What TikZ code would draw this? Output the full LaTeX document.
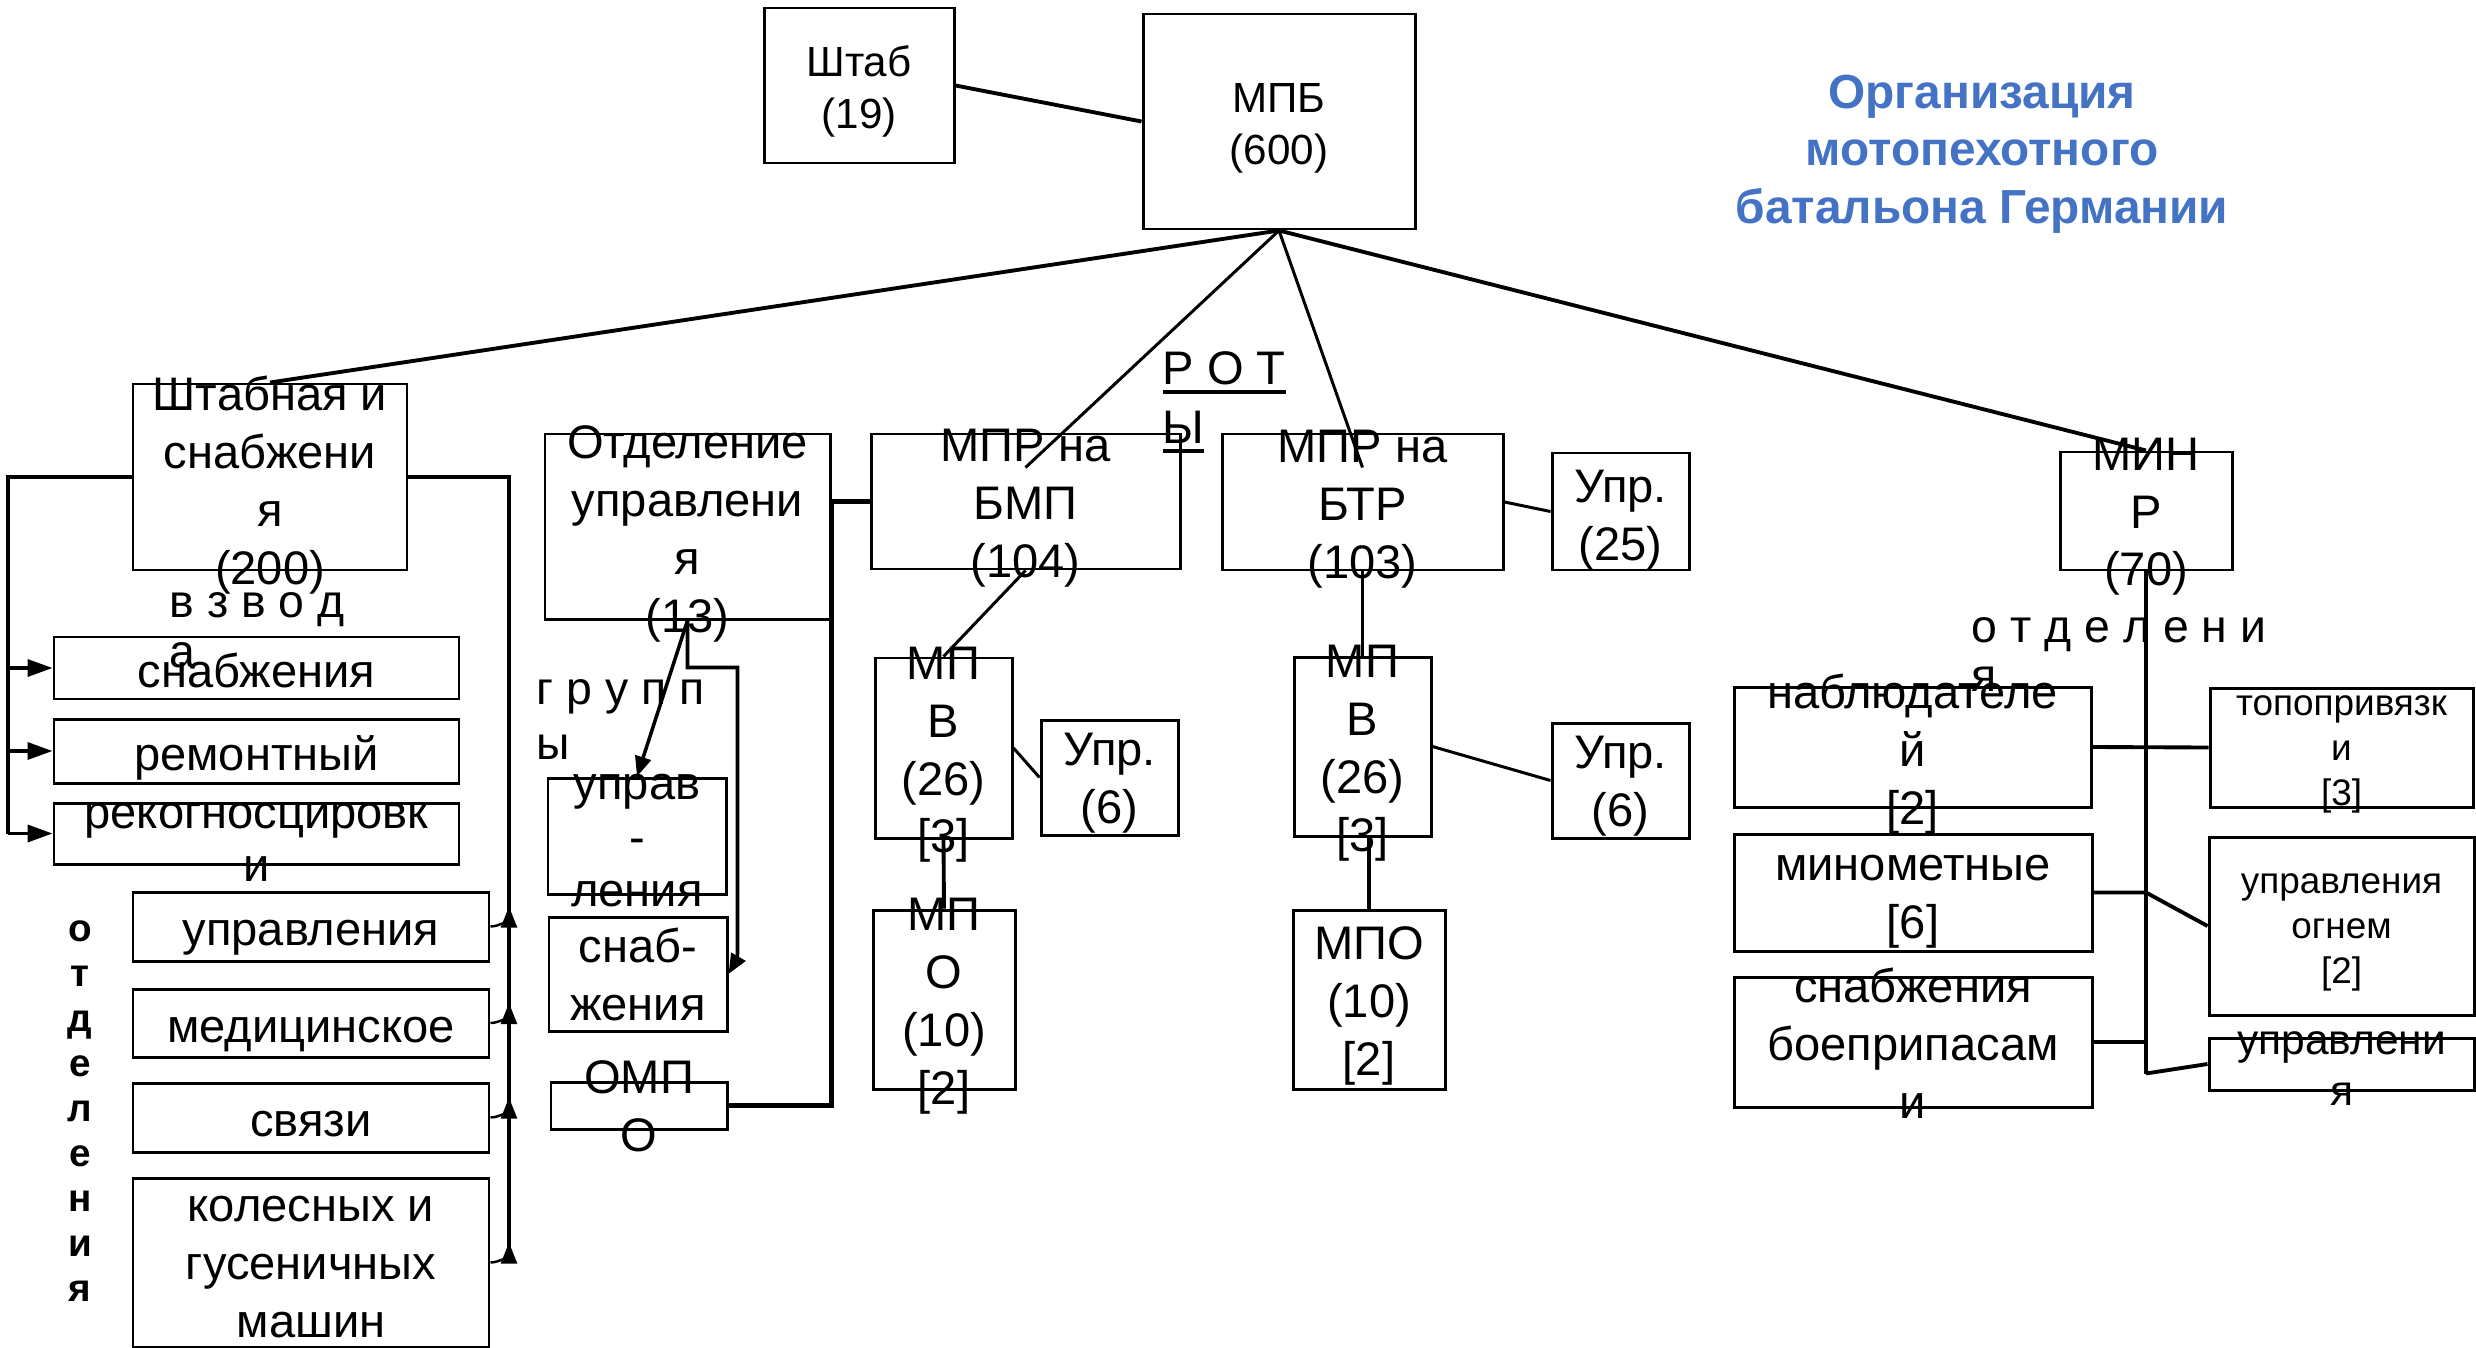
\documentclass[tikz,border=0pt]{standalone}
\usepackage{fontspec}
\setmainfont{Liberation Sans}
\usepackage{xcolor}
\usepackage{tikz}
\usetikzlibrary{positioning, arrows.meta, calc}
\definecolor{titleblue}{RGB}{68,114,196}
\newcommand{\thul}[1]{\leavevmode\vtop{\hbox{#1}\kern1.5pt\hrule height 1.1pt}}

\begin{document}
\begin{tikzpicture}[box/.style={draw, line width=0.85pt, inner sep=0pt},
		txt/.style={align=center, inner sep=0pt, yshift=-0.075cm, font=\fontsize{13.4}{16.5}\selectfont,
			execute at begin node={\noindent\strut}, execute at end node={\strut}},
		toptxt/.style={txt, font=\fontsize{12}{14.8}\selectfont},
		smalltxt/.style={txt, font=\fontsize{10.5}{12.8}\selectfont},
		lbl/.style={align=left, inner sep=0pt, anchor=west, font=\fontsize{13.2}{14.2}\selectfont},
		edge/.style={line width=1.1pt}, thinedge/.style={line width=0.85pt},
		brk/.style={line width=1.4pt},
		larr/.style={line width=1pt, -{Triangle[length=0.25cm, width=0.17cm]}},
		sarr/.style={line width=0.7pt, -{Triangle[length=0.21cm, width=0.16cm]}},
		garr/.style={line width=1pt, -{Triangle[length=0.2cm, width=0.16cm]}}]

		\useasboundingbox (0,0) rectangle (24.76,-13.48);

		% top
		\node[box, minimum width=1.90cm, minimum height=1.55cm] (shtab) at (8.59,-0.855) {};
		\node[toptxt] (shtab-t) at ($(shtab)+(0,-0.02)$) {Штаб\\(19)};
		\node[box, minimum width=2.72cm, minimum height=2.15cm] (mpb) at (12.79,-1.215) {};
		\node[toptxt] (mpb-t) at ($(mpb)+(0,-0.03)$) {МПБ\\(600)};
		\node[font=\bfseries\fontsize{13.6}{16.4}\selectfont, text=titleblue, align=center, inner sep=0pt] (title) at (19.82,-1.54) {Организация\\мотопехотного\\батальона Германии};

		% headquarters and supply company
		\node[box, minimum width=2.74cm, minimum height=1.86cm] (shtabn) at (2.70,-4.77) {};
		\node[txt] (shtabn-t) at ($(shtabn)+(0,-0.04)$) {Штабная и\\снабжени\\я\\(200)};
		\node[lbl] (vzvod) at (1.69,-6.30) {в з в о д\\а};
		\node[box, minimum width=4.05cm, minimum height=0.62cm] (vsnab) at (2.565,-6.68) {};
		\node[txt] (vsnab-t) at (vsnab) {снабжения};
		\node[box, minimum width=4.05cm, minimum height=0.64cm] (remont) at (2.565,-7.51) {};
		\node[txt] (remont-t) at (remont) {ремонтный};
		\node[box, minimum width=4.05cm, minimum height=0.61cm] (rekog) at (2.565,-8.335) {};
		\node[txt, font=\fontsize{13.4}{15}\selectfont] (rekog-t) at ($(rekog)+(0,-0.09)$) {рекогносцировк\\и};
		\node[box, minimum width=3.56cm, minimum height=0.69cm] (oupr) at (3.11,-9.265) {};
		\node[txt] (oupr-t) at (oupr) {управления};
		\node[box, minimum width=3.56cm, minimum height=0.68cm] (med) at (3.11,-10.23) {};
		\node[txt] (med-t) at (med) {медицинское};
		\node[box, minimum width=3.56cm, minimum height=0.69cm] (svyaz) at (3.11,-11.175) {};
		\node[txt] (svyaz-t) at (svyaz) {связи};
		\node[box, minimum width=3.56cm, minimum height=1.69cm] (koles) at (3.11,-12.625) {};
		\node[txt] (koles-t) at ($(koles)+(0,-0.06)$) {колесных и\\гусеничных\\машин};
		\node[align=center, inner sep=0pt, font=\bfseries\fontsize{11}{12.8}\selectfont] (otdv) at (0.80,-11.11) {о\\т\\д\\е\\л\\е\\н\\и\\я};

		% command section
		\node[box, minimum width=2.85cm, minimum height=1.85cm] (otd) at (6.875,-5.265) {};
		\node[txt] (otd-t) at ($(otd)+(0,-0.04)$) {Отделение\\управлени\\я\\(13)};
		\node[lbl, font=\fontsize{13.2}{15.6}\selectfont] (grupp) at (5.36,-7.195) {г р у п п\\ы};
		\node[box, minimum width=1.78cm, minimum height=1.16cm] (gupr) at (6.37,-8.36) {};
		\node[txt, font=\fontsize{13.4}{15.2}\selectfont] (gupr-t) at ($(gupr)+(0,-0.05)$) {управ\\-\\ления};
		\node[box, minimum width=1.78cm, minimum height=1.14cm] (gsnab) at (6.38,-9.74) {};
		\node[txt] (gsnab-t) at ($(gsnab)+(0,-0.01)$) {снаб-\\жения};
		\node[box, minimum width=1.76cm, minimum height=0.47cm] (ompo) at (6.39,-11.055) {};
		\node[txt] (ompo-t) at ($(ompo)+(0,-0.02)$) {ОМП\\О};

		% companies
		\node[lbl, font=\fontsize{13.4}{16.8}\selectfont] (roty) at (11.62,-4.02) {\thul{Р О Т}\\\thul{Ы}};
		\node[box, minimum width=3.09cm, minimum height=1.35cm] (bmp) at (10.255,-5.015) {};
		\node[txt] (bmp-t) at ($(bmp)+(0,-0.03)$) {МПР на\\БМП\\(104)};
		\node[box, minimum width=1.37cm, minimum height=1.80cm] (mpv1) at (9.435,-7.48) {};
		\node[txt] (mpv1-t) at ($(mpv1)+(0,-0.03)$) {МП\\В\\(26)\\{}[3]};
		\node[box, minimum width=1.37cm, minimum height=1.15cm] (upr6a) at (11.095,-7.775) {};
		\node[txt] (upr6a-t) at ($(upr6a)+(0,-0.02)$) {Упр.\\(6)};
		\node[box, minimum width=1.42cm, minimum height=1.79cm] (mpo1) at (9.44,-9.995) {};
		\node[txt] (mpo1-t) at ($(mpo1)+(0,-0.03)$) {МП\\О\\(10)\\{}[2]};

		\node[box, minimum width=2.81cm, minimum height=1.36cm] (btr) at (13.625,-5.02) {};
		\node[txt] (btr-t) at ($(btr)+(0,-0.03)$) {МПР на\\БТР\\(103)};
		\node[box, minimum width=1.37cm, minimum height=1.17cm] (upr25) at (16.205,-5.115) {};
		\node[txt] (upr25-t) at ($(upr25)+(0,-0.05)$) {Упр.\\(25)};
		\node[box, minimum width=1.37cm, minimum height=1.79cm] (mpv2) at (13.625,-7.465) {};
		\node[txt] (mpv2-t) at ($(mpv2)+(0,-0.03)$) {МП\\В\\(26)\\{}[3]};
		\node[box, minimum width=1.37cm, minimum height=1.15cm] (upr6b) at (16.205,-7.805) {};
		\node[txt] (upr6b-t) at ($(upr6b)+(0,-0.02)$) {Упр.\\(6)};
		\node[box, minimum width=1.52cm, minimum height=1.79cm] (mpo2) at (13.69,-9.995) {};
		\node[txt] (mpo2-t) at ($(mpo2)+(0,-0.03)$) {МПО\\(10)\\{}[2]};

		% mortar company
		\node[box, minimum width=1.72cm, minimum height=1.18cm] (minr) at (21.46,-5.11) {};
		\node[txt] (minr-t) at ($(minr)+(0,-0.02)$) {МИН\\Р\\(70)};
		\node[lbl, font=\fontsize{13.2}{14}\selectfont] (otdm) at (19.71,-6.545) {о т д е л е н и\\я};
		\node[box, minimum width=3.57cm, minimum height=1.20cm] (nabl) at (19.125,-7.47) {};
		\node[txt] (nabl-t) at ($(nabl)+(0,-0.03)$) {наблюдателе\\й\\{}[2]};
		\node[box, minimum width=2.63cm, minimum height=1.19cm] (topo) at (23.415,-7.475) {};
		\node[smalltxt] (topo-t) at ($(topo)+(0,-0.02)$) {топопривязк\\и\\{}[3]};
		\node[box, minimum width=3.58cm, minimum height=1.17cm] (minom) at (19.13,-8.925) {};
		\node[txt] (minom-t) at ($(minom)+(0,-0.06)$) {минометные\\{}[6]};
		\node[box, minimum width=2.65cm, minimum height=1.78cm] (ogn) at (23.415,-9.26) {};
		\node[smalltxt] (ogn-t) at ($(ogn)+(0,-0.02)$) {управления\\огнем\\{}[2]};
		\node[box, minimum width=3.58cm, minimum height=1.30cm] (snabb) at (19.13,-10.42) {};
		\node[txt] (snabb-t) at ($(snabb)+(0,-0.02)$) {снабжения\\боеприпасам\\и};
		\node[box, minimum width=2.65cm, minimum height=0.52cm] (uprm) at (23.415,-10.64) {};
		\node[txt, font=\fontsize{12.1}{14.5}\selectfont] (uprm-t) at ($(uprm)+(0,-0.045)$) {управлени\\я};

		% battalion links
		\draw[edge] (shtab.east) -- (mpb.west);
		\draw[edge] (mpb.south) -- (shtabn.north);
		\draw[thinedge] (mpb.south) -- ($(bmp.north)+(0,-0.35)$);
		\draw[thinedge] (mpb.south) -- ($(btr.north)+(0,-0.35)$);
		\draw[edge] (mpb.south) -- (minr.north);

		% brackets of the headquarters company
		\coordinate (lb) at (0.08,-4.77);
		\coordinate (rb) at (5.09,-4.77);
		\draw[brk] (shtabn.west) -- (lb) -- (lb |- rekog.west);
		\draw[larr] (lb |- vsnab.west) -- (vsnab.west);
		\draw[larr] (lb |- remont.west) -- (remont.west);
		\draw[larr] (lb |- rekog.west) -- (rekog.west);
		\draw[brk] (shtabn.east) -- (rb) -- ($(rb |- koles.east)+(0,0.05)$);
		\draw[sarr] (oupr.east) to[out=0, in=-90] ($(rb |- oupr.east)+(0,0.2)$);
		\draw[sarr] (med.east) to[out=0, in=-90] ($(rb |- med.east)+(0,0.2)$);
		\draw[sarr] (svyaz.east) to[out=0, in=-90] ($(rb |- svyaz.east)+(0,0.2)$);
		\draw[sarr] (koles.east) to[out=0, in=-90] ($(rb |- koles.east)+(0,0.2)$);

		% groups
		\draw[garr] (otd.south) -- (gupr.north);
		\draw[garr] (otd.south) -- ++(0,-0.47) -| ($(gsnab.east)+(0.09,0.2)$) to[out=-90, in=60] (gsnab.east);
		\draw[brk] (bmp.west) -- (otd.east |- bmp.west) -- (otd.east |- ompo.east) -- (ompo.east);

		% platoons
		\draw[thinedge] (bmp.south) -- (mpv1.north);
		\draw[thinedge] (mpv1.east) -- (upr6a.west);
		\draw[edge] (mpv1.south) -- (mpo1.north);
		\draw[thinedge] (btr.east) -- (upr25.west);
		\draw[edge] (btr.south) -- (mpv2.north);
		\draw[thinedge] (mpv2.east) -- (upr6b.west);
		\draw[edge] (mpo2.north |- mpv2.south) -- (mpo2.north);

		% mortar sections
		\path (minr.south) ++(0,-5.02) coordinate (mbot);
		\draw[edge] (minr.south) -- (mbot);
		\draw[edge] (nabl.east) -- (topo.west);
		\draw[edge] (minom.east) -- (minom.east -| mbot) -- (ogn.west);
		\draw[edge] (snabb.east) -- (snabb.east -| mbot);
		\draw[edge] (mbot) -- (uprm.west);
\end{tikzpicture}
\end{document}
